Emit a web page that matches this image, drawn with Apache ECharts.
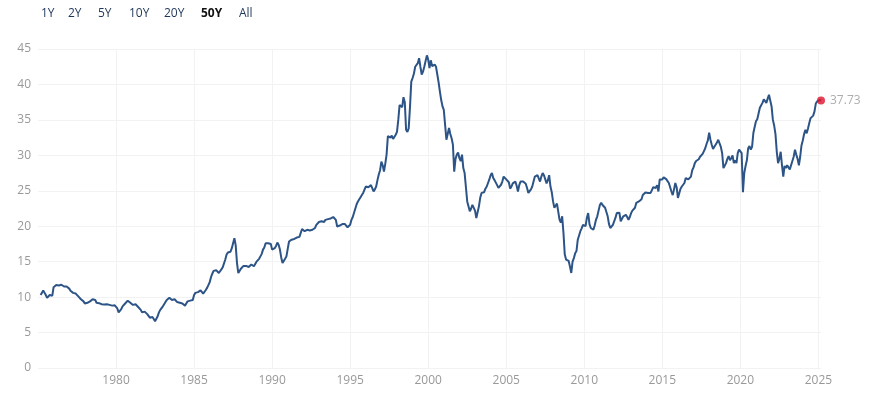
<!DOCTYPE html>
<html>
<head>
<meta charset="utf-8">
<script src="https://cdn.jsdelivr.net/npm/echarts@6/dist/echarts.min.js"></script>
<style>
html,body{margin:0;padding:0;background:#fff;}
#chart{width:894px;height:394px;}
</style>
</head>
<body>
<div id="chart"></div>
<script>
// Monthly values, first value = March 1975, last value = March 2025
const startYear = 1975;
const startMonth = 3;
const cape1970s = [
  10.3,10.6,10.95,10.8,10.3,9.9,10.0,10.3,10.4,10.2,
  11.4,11.6,11.7,11.6,11.65,11.6,11.75,11.6,11.5,11.3,11.5,11.7,
  11.2,10.9,10.7,10.6,10.6,10.5,10.4,10.1,9.9,9.7,9.5,9.4,
  9.1,9.0,9.2,9.4,9.4,9.5,9.7,9.9,9.6,9.2,9.0,9.15,
  9.1,9.0,9.0,8.95,8.9,9.0,9.15,8.9,8.7,8.8,8.9,8.85
];
const cape1980s = [
  8.7,8.4,7.85,7.9,8.3,8.7,8.95,9.1,9.2,9.5,9.4,9.2,
  9.15,8.9,8.95,9.0,8.8,8.6,8.45,8.2,7.85,7.9,7.95,7.85,
  7.6,7.4,7.1,7.05,7.2,6.9,6.6,6.6,7.3,7.85,8.2,8.45,
  8.7,9.0,9.3,9.6,9.87,9.9,9.7,9.6,9.7,9.7,9.5,9.3,
  9.3,9.2,9.15,9.1,8.9,8.8,9.1,9.4,9.5,9.5,9.5,9.6,
  10.3,10.6,10.67,10.7,10.8,10.95,10.9,10.5,10.6,11.0,11.3,11.7,
  12.1,12.8,13.3,13.7,13.6,13.8,13.6,13.4,13.6,13.9,14.2,14.3,
  15.3,16.0,16.3,16.2,16.4,16.9,17.6,18.3,17.3,14.8,13.4,13.6,
  14.0,14.25,14.4,14.6,14.4,14.3,14.25,14.3,14.6,14.6,14.35,14.6,
  15.0,15.2,15.4,15.75,16.1,16.7,17.0,17.6,17.5,17.6,17.4,17.5
];
const cape1990s = [
  16.7,16.6,16.9,17.2,17.7,17.4,16.7,15.6,14.8,15.0,15.4,15.75,
  16.8,17.85,18.0,18.1,18.2,18.2,18.3,18.4,18.5,18.5,18.6,19.6,
  19.5,19.3,19.4,19.5,19.6,19.4,19.4,19.5,19.6,19.75,20.2,20.45,
  20.6,20.7,20.7,20.55,20.6,20.9,20.9,21.0,21.0,21.1,21.2,21.3,
  21.1,20.9,19.97,20.0,20.1,20.2,20.3,20.45,20.3,20.1,19.85,19.9,
  20.2,20.9,21.3,21.9,22.5,23.1,23.5,23.8,24.1,24.4,24.7,24.9,
  25.6,25.85,25.5,25.6,25.8,25.6,24.9,25.2,25.6,26.5,27.3,27.9,
  29.1,28.6,27.7,28.8,30.1,32.7,32.8,32.5,32.8,32.3,32.4,32.9,
  33.3,35.0,37.1,37.0,36.8,38.2,37.5,33.6,33.3,33.8,36.8,40.4,
  40.9,41.5,42.5,42.3,43.0,43.7,42.5,41.4,41.8,42.5,43.3,44.1
];
const cape2000s = [
  43.5,42.3,43.4,42.6,42.7,42.8,42.5,41.4,40.3,39.0,37.8,36.9,
  36.4,34.3,32.2,33.0,33.85,33.0,32.4,31.5,27.7,29.5,30.1,30.4,
  29.6,29.2,30.1,28.2,27.5,25.5,23.5,23.3,22.1,22.5,23.0,22.8,
  22.2,21.15,21.3,22.8,24.0,24.7,24.7,24.8,25.3,25.6,26.1,26.6,
  27.2,27.5,26.8,26.5,26.3,25.8,25.4,25.6,25.85,26.3,27.0,26.9,
  26.6,26.6,26.2,25.3,25.6,26.05,26.2,26.3,25.7,24.9,25.8,26.3,
  26.3,26.3,26.1,26.0,25.4,24.7,24.9,25.2,25.6,26.3,27.0,27.1,
  27.2,27.1,26.3,27.0,27.5,27.2,27.2,26.05,26.5,27.2,25.6,24.8,
  23.5,22.6,22.5,23.2,23.1,20.9,20.5,21.4,19.05,16.0,15.3,15.4,
  15.1,14.3,13.4,15.0,15.5,16.2,16.5,18.1,18.7,19.3,19.7,20.2
];
const cape2010s = [
  20.2,20.0,21.2,21.85,20.3,19.75,19.6,19.5,20.1,20.9,21.4,22.2,
  23.0,23.3,23.0,23.0,22.6,22.0,21.4,20.3,19.75,19.9,20.2,20.4,
  21.2,21.85,22.1,21.9,20.7,20.9,21.4,21.5,21.6,21.3,20.9,21.3,
  21.85,22.2,22.4,22.6,23.3,23.2,23.5,23.4,23.8,24.4,24.6,24.75,
  24.9,24.7,24.65,24.7,25.1,25.5,25.6,25.4,25.8,24.9,26.6,26.8,
  26.6,26.9,26.8,26.65,26.7,26.1,26.0,24.9,24.4,25.2,26.1,25.5,
  24.0,24.2,25.3,25.6,25.8,26.1,26.8,26.7,26.6,26.5,27.0,27.9,
  28.3,28.9,29.2,29.2,29.45,29.8,29.95,30.2,30.6,31.0,31.6,32.1,
  33.2,32.2,31.5,30.9,31.2,31.4,31.8,32.2,32.4,31.2,30.3,28.2,
  28.4,28.9,29.5,29.9,29.3,29.6,30.0,28.9,29.3,28.9,30.3,30.8
];
const cape2020s = [
  31.0,30.3,24.8,27.5,28.5,29.3,31.0,31.3,30.8,31.2,33.15,34.0,
  34.8,35.1,35.9,36.7,36.7,37.4,37.9,37.9,37.4,38.0,38.55,38.3,
  36.9,35.0,34.2,33.0,30.5,28.9,29.5,30.5,28.6,27.0,28.5,28.2,
  28.6,28.3,28.0,28.6,28.8,29.8,30.8,30.1,29.5,28.6,29.8,31.4,
  32.1,33.0,33.6,33.1,33.8,34.55,35.25,35.0,35.6,36.2,37.3,37.6,
  37.7,37.8,37.73
];
const rangeButtons = ['1Y','2Y','5Y','10Y','20Y','50Y','All'];
const activeRange = '50Y';
const yTicks = [0,5,10,15,20,25,30,35,40,45];

const values = [].concat(cape1970s, cape1980s, cape1990s, cape2000s, cape2010s, cape2020s);
const points = values.map((v, i) => {
  const m = startMonth - 1 + i;
  return [startYear + m / 12, v];
});
const last = points[points.length - 1];

const chart = echarts.init(document.getElementById('chart'));
const FONT = 'Open Sans';
const btnX = [41, 68, 98, 129, 164, 201, 239];

chart.setOption({
  animation: false,
  grid: { left: 38, right: 73, top: 49, bottom: 26 },
  graphic: rangeButtons.map((t, i) => ({
    type: 'text',
    left: btnX[i],
    top: 8,
    style: {
      text: t,
      fill: t === activeRange ? '#111' : '#1f3658',
      font: (t === activeRange ? 'bold ' : '') + '12px "' + FONT + '"'
    }
  })),
  xAxis: {
    type: 'value',
    min: 1975,
    max: last[0],
    interval: 5,
    axisLine: { show: false },
    axisTick: { show: false },
    splitLine: { show: true, showMinLine: false, showMaxLine: false, lineStyle: { color: '#f2f2f2', width: 1 } },
    axisLabel: {
      color: '#999',
      fontSize: 12,
      fontFamily: FONT,
      margin: 7,
      formatter: v => (Math.abs(v % 5) < 1e-6 && v > 1975.5) ? String(Math.round(v)) : ''
    }
  },
  yAxis: {
    type: 'value',
    min: yTicks[0],
    max: yTicks[yTicks.length - 1],
    interval: 5,
    axisLine: { show: false },
    axisTick: { show: false },
    splitLine: { show: true, lineStyle: { color: '#f2f2f2', width: 1 } },
    axisLabel: { color: '#999', fontSize: 12, fontFamily: FONT, margin: 7 }
  },
  series: [
    {
      type: 'line',
      data: points,
      showSymbol: false,
      lineStyle: { color: '#2d5487', width: 2 },
      itemStyle: { color: '#2d5487' }
    },
    {
      type: 'scatter',
      data: [last],
      symbolSize: 8,
      itemStyle: { color: '#e0102b' },
      label: {
        show: true,
        position: 'right',
        distance: 5,
        color: '#999',
        fontSize: 12,
        fontFamily: FONT,
        formatter: p => p.value[1].toFixed(2)
      },
      z: 5
    }
  ]
});
</script>
</body>
</html>
